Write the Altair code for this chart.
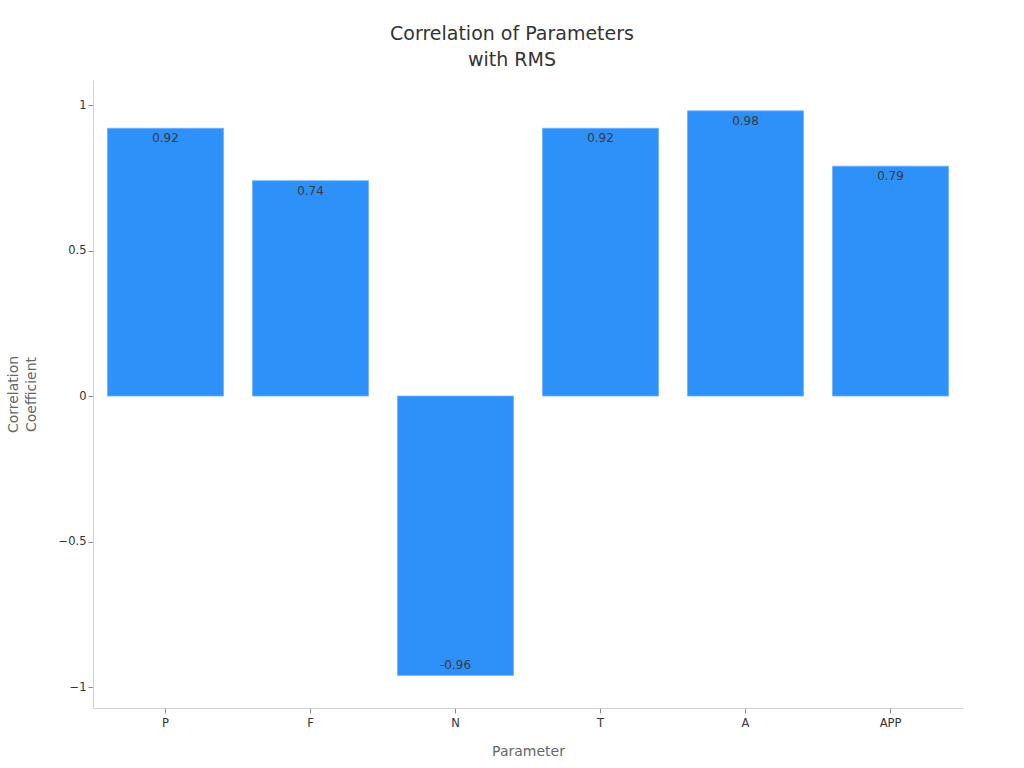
import altair as alt
import pandas as pd

params = ["P", "F", "N", "T", "A", "APP"]
corr = [0.92, 0.74, -0.96, 0.92, 0.98, 0.79]

df = pd.DataFrame({"param": params, "corr": corr,
                   "label": [f"{v:.2f}" for v in corr]})

FONT = "DejaVu Sans"
x = alt.X("param:N", sort=params, title="Parameter",
          scale=alt.Scale(paddingInner=0.2, paddingOuter=0.1),
          axis=alt.Axis(labelAngle=0, labelFontSize=11.5, labelColor="#333333",
                        titleFontSize=14, titleColor="#666666", titleFontWeight="normal",
                        titlePadding=16, labelPadding=4, tickSize=5,
                        domainColor="#d0d0d0", tickColor="#888888"))
y = alt.Y("corr:Q", title=["Correlation", "Coefficient"],
          scale=alt.Scale(domain=[-1.072, 1.086], nice=False, zero=False),
          axis=alt.Axis(values=[-1, -0.5, 0, 0.5, 1], format="~g", grid=False,
                        labelFontSize=11.5, labelColor="#333333",
                        titleFontSize=14, titleColor="#666666", titleFontWeight="normal",
                        titlePadding=20, titleLineHeight=18, labelPadding=2, tickSize=5,
                        domainColor="#d0d0d0", tickColor="#888888"))

base = alt.Chart(df)
bars = base.mark_bar(color="#2E90F9", stroke="#6fb1fb", strokeWidth=0.8).encode(x=x, y=y)
pos = base.transform_filter("datum.corr >= 0").mark_text(
    baseline="top", dy=5, fontSize=12, color="#3a3a3a", font=FONT
).encode(x=x, y=y, text="label:N")
neg = base.transform_filter("datum.corr < 0").mark_text(
    baseline="bottom", dy=-3, fontSize=12, color="#3a3a3a", font=FONT
).encode(x=x, y=y, text="label:N")

chart = alt.layer(bars, pos, neg).properties(
    width=870, height=628,
    autosize=alt.AutoSizeParams(type="none"),
    padding={"left": 93, "top": 80, "right": 61, "bottom": 60},
    title=alt.TitleParams(["Correlation of Parameters", "with RMS"], fontSize=19,
                          font=FONT, fontWeight="normal", color="#333333",
                          anchor="middle", dx=-16, offset=10, lineHeight=26),
).configure(font=FONT).configure_view(strokeWidth=0, stroke="transparent")

chart.save("out.html", embed_options={"renderer": "svg", "actions": False})
